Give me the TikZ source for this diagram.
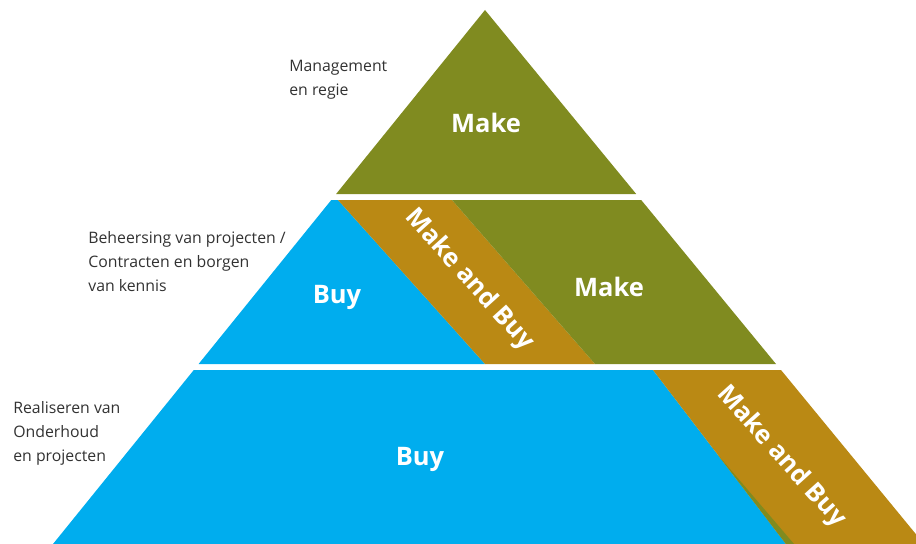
\documentclass[tikz,border=0pt]{standalone}
\usepackage{fontspec}
\setmainfont{Open Sans}
\usetikzlibrary{positioning}

\definecolor{make}{RGB}{128,139,32}
\definecolor{mixed}{RGB}{186,137,20}
\definecolor{buy}{RGB}{0,173,238}
\definecolor{labelgray}{RGB}{50,50,50}

\begin{document}
\begin{tikzpicture}[
    % pixel grid: 1 unit = 0.02cm, y grows downwards
    x=0.02cm, y=-0.02cm,
    tier/.style={draw=none},
    part/.style={text=white, font=\bfseries\fontsize{14.5}{16}\selectfont, inner sep=0pt},
    level/.style={text=labelgray, align=left, anchor=north west, inner sep=0pt,
                  font=\fontsize{9}{13.7}\selectfont}
]
    \useasboundingbox (0,0) rectangle (916,544);
    \clip (0,0) rectangle (916,544);

    % top tier
    \fill[make] (485,10) -- (636.2,194) -- (336.1,194) -- cycle;
    % middle tier
    \fill[buy] (331.3,200) -- (338,200) -- (485,364) -- (198.6,364) -- cycle;
    \fill[mixed] (338,200) -- (452,200) -- (595,364) -- (485,364) -- cycle;
    \fill[make] (452,200) -- (641.2,200) -- (776,364) -- (595,364) -- cycle;
    % bottom tier
    \fill[buy] (193.8,370) -- (653,370) -- (786,544) -- (53,544) -- cycle;
    \fill[mixed] (653,370) -- (781,370) -- (924,544) -- (786,544) -- cycle;
    \fill[make] (718,455) -- (786,544) -- (794,544) -- cycle;

    \node[part] (make1) at (486,123) {Make};
    \node[part] (buy2) at (337,297) {Buy};
    \node[part, rotate=-48] (mab2) at (469,280) {Make and Buy};
    \node[part] (make2) at (609,287) {Make};
    \node[part] (buy3) at (420,459) {Buy};
    \node[part, rotate=-48] (mab3) at (781,457) {Make and Buy};

    \node[level] (lvl1) at (289,60) {Management\\en regie};
    \node[level] (lvl2) at (88,231) {Beheersing van projecten /\\Contracten en borgen\\van kennis};
    \node[level] (lvl3) at (13,401) {Realiseren van\\Onderhoud\\en projecten};
\end{tikzpicture}
\end{document}
